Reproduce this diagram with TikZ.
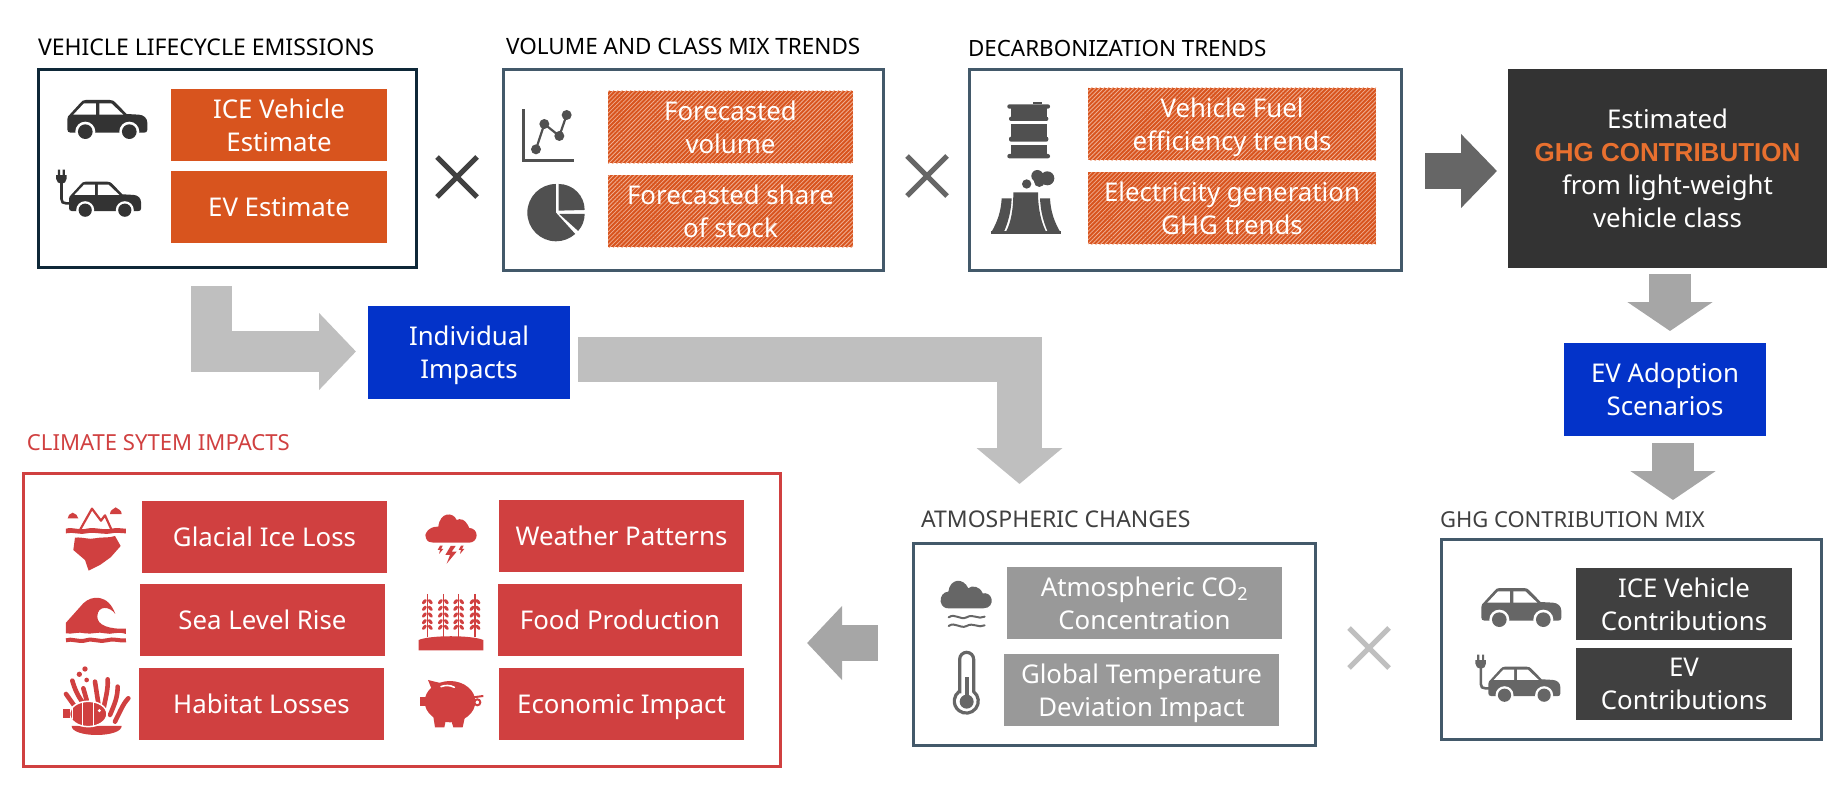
\documentclass[tikz,border=0pt]{standalone}
\usepackage{fontspec}
\setmainfont{Noto Sans}
\newfontfamily\ghgf{Liberation Sans}
\usetikzlibrary{arrows.meta,patterns.meta}
\definecolor{orng}{HTML}{D8541E}
\definecolor{hatchline}{HTML}{F0AE92}
\definecolor{navy}{HTML}{0E2838}
\definecolor{slate}{HTML}{43596A}
\definecolor{redd}{HTML}{D04040}
\definecolor{bluee}{HTML}{0333C9}
\definecolor{ghgor}{HTML}{E8702F}
\definecolor{grayA}{HTML}{999999}
\definecolor{grayD}{HTML}{404040}
\definecolor{iconA}{HTML}{333333}
\definecolor{iconB}{HTML}{505050}
\definecolor{iconC}{HTML}{666666}
\definecolor{arrL}{HTML}{BFBFBF}
\definecolor{arrM}{HTML}{A6A6A6}
\tikzset{
  frame/.style={draw=slate,line width=3pt,inner sep=0pt,outer sep=0pt},
  solidbox/.style={inner sep=0pt,outer sep=0pt,text=white,align=center,font=\fontsize{25.8}{33}\selectfont},
  oneline/.style={text height=22pt,text depth=4pt},
  orangebox/.style={solidbox,fill=orng},
  hatchbox/.style={solidbox,fill=orng,postaction={pattern={Lines[angle=45,distance=3pt,line width=.8pt]},pattern color=hatchline}},
  redbox/.style={solidbox,oneline,fill=redd},
  bluebox/.style={solidbox,fill=bluee},
  graybox/.style={solidbox,fill=grayA},
  darkbox/.style={solidbox,fill=grayD},
  blackbox/.style={solidbox,fill=iconA},
  ttl/.style={anchor=base west,inner sep=0pt,outer sep=0pt,font=\fontsize{#1}{24}\selectfont},
  cross/.style={line width=5pt},
}
\newcommand{\recbox}[7]{\node[#2,minimum width={(#5-#3)*1pt},minimum height={(#6-#4)*1pt}] (#1) at ({(#3+#5)/2},{(#4+#6)/2}) {#7};}
\newcommand{\crossmark}[3]{\draw[cross,draw=#3] (#1-20,#2-20) -- (#1+20,#2+20) (#1-20,#2+20) -- (#1+20,#2-20);}
\newcommand{\caricon}[4]{\begin{scope}[shift={(#1,#2)},scale=#3]
 \fill[#4] (0,58) .. controls (0,50) and (4,46) .. (8,43) -- (40,8) .. controls (44,3) and (48,0) .. (55,0) -- (128,0) .. controls (135,0) and (140,3) .. (143,6) -- (178,42) -- (215,44) .. controls (230,45) and (240,55) .. (240,68) -- (240,90) .. controls (240,96) and (236,98) .. (230,98) -- (10,98) .. controls (3,98) and (0,94) .. (0,88) -- cycle;
 \fill[white] (18,44) -- (50,10) -- (86,10) -- (86,44) -- cycle (96,10) -- (132,10) -- (168,44) -- (96,44) -- cycle;
 \fill[white] (54,95) circle (30) (186,95) circle (30);
 \fill[#4] (54,95) circle (22) (186,95) circle (22);
\end{scope}}
\newcommand{\plugicon}[4]{\begin{scope}[shift={(#1,#2)},scale=#3]
 \draw[#4,line width=2.6pt] (-25,5) -- (-25,58) .. controls (-25,68) and (-20,72) .. (-10,72) -- (8,72);
 \fill[#4] (-43,-22) -- (-8,-22) -- (-8,-10) .. controls (-8,0) and (-16,7) .. (-25,7) .. controls (-34,7) and (-43,0) .. (-43,-10) -- cycle;
 \fill[#4] (-37,-40) rectangle (-30,-20) (-21,-40) rectangle (-14,-20);
\end{scope}}
\begin{document}
\begin{tikzpicture}[x=1pt,y=-1pt]
\useasboundingbox (0,0) rectangle (1833,789);
% ---------- frames
\recbox{box1}{frame,draw=navy}{38}{70}{416.5}{267}{}
\recbox{box2}{frame}{503.5}{70}{883.5}{270}{}
\recbox{box3}{frame}{969.5}{70}{1401.5}{270}{}
\recbox{redfr}{frame,draw=redd}{23.5}{473}{780.5}{766}{}
\recbox{box4}{frame}{913.5}{543.5}{1315.5}{745.5}{}
\recbox{box5}{frame}{1441.5}{539}{1821.5}{739.5}{}
% ---------- titles
\node[ttl=23] (t1) at (38,56) {VEHICLE LIFECYCLE EMISSIONS};
\node[ttl=22.5] (t2) at (506,55) {VOLUME AND CLASS MIX TRENDS};
\node[ttl=22.4] (t3) at (968,57) {DECARBONIZATION TRENDS};
\node[ttl=22.1,text=redd] (t4) at (27,450) {CLIMATE SYTEM IMPACTS};
\node[ttl=23,text=grayD] (t5) at (921,527) {ATMOSPHERIC CHANGES};
\node[ttl=22,text=grayD] (t6) at (1440,527) {GHG CONTRIBUTION MIX};
% ---------- content boxes
\recbox{ice}{orangebox}{171}{89}{387}{161}{ICE Vehicle\\Estimate}
\recbox{ev}{orangebox,oneline}{171}{171}{387}{243}{EV Estimate}
\recbox{fv}{hatchbox}{608}{91}{853}{163}{Forecasted\\volume}
\recbox{fs}{hatchbox}{608}{175}{853}{247}{Forecasted share\\of stock}
\recbox{vf}{hatchbox}{1088}{88}{1376}{160}{Vehicle Fuel\\\smash{efficiency trends}}
\recbox{eg}{hatchbox}{1088}{172}{1376}{244}{Electricity generation\\GHG trends}
\recbox{dark}{blackbox}{1508}{69}{1827}{268}{Estimated\\{\ghgf\fontsize{26}{33}\selectfont\bfseries\color{ghgor}GHG CONTRIBUTION}\\from light-weight\\vehicle class}
\recbox{adopt}{bluebox}{1564}{343}{1766}{436}{EV Adoption\\Scenarios}
\recbox{ind}{bluebox}{368}{306}{570}{399}{Individual\\\smash{Impacts}}
\recbox{gl}{redbox}{142}{501}{387}{573}{Glacial Ice Loss}
\recbox{se}{redbox}{140}{584}{385}{656}{Sea Level Rise}
\recbox{ha}{redbox}{139}{668}{384}{740}{Habitat Losses}
\recbox{we}{redbox}{499}{500}{744}{572}{Weather Patterns}
\recbox{fo}{redbox}{498}{584}{742}{656}{Food Production}
\recbox{ec}{redbox}{499}{668}{744}{740}{Economic Impact}
\recbox{co}{graybox}{1007}{567}{1282}{639}{Atmospheric CO\textsubscript{2}\\Concentration}
\recbox{gt}{graybox}{1004}{654}{1279}{726}{Global Temperature\\\smash{Deviation Impact}}
\recbox{ic}{darkbox}{1576}{568}{1792}{640}{ICE Vehicle\\Contributions}
\recbox{ec2}{darkbox}{1576}{648}{1792}{720}{EV\\Contributions}
% ---------- crosses
\crossmark{457}{177}{grayD}
\crossmark{927}{176}{iconC}
\crossmark{1369}{648}{arrL}
% ---------- block connectors
\coordinate (a1) at (211.6,286);
\coordinate (a1e) at (356,351.5);
\draw[line width=41pt,draw=arrL,-{Triangle[width=75pt,length=37pt]}] (a1) |- (a1e);
\coordinate (a2) at (578,359);
\coordinate (a2e) at (1019.5,484);
\draw[line width=45pt,draw=arrL,-{Triangle[width=84pt,length=36pt]}] (a2) -| (a2e);
\coordinate (a3) at (1425,171);
\coordinate (a3e) at (1497,171);
\draw[line width=36pt,draw=iconC,-{Triangle[width=72pt,length=36pt]}] (a3) -- (a3e);
\coordinate (a4) at (1670,274);
\coordinate (a4e) at (1670,331);
\draw[line width=42pt,draw=arrM,-{Triangle[width=84pt,length=29pt]}] (a4) -- (a4e);
\coordinate (a5) at (1673,443);
\coordinate (a5e) at (1673,500);
\draw[line width=42pt,draw=arrM,-{Triangle[width=84pt,length=29pt]}] (a5) -- (a5e);
\coordinate (a6) at (878,643);
\coordinate (a6e) at (807,643);
\draw[line width=36pt,draw=arrM,-{Triangle[width=72pt,length=35pt]}] (a6) -- (a6e);
% ---------- top icons
\caricon{67.3}{100}{.3333}{iconA}
\caricon{69}{181.7}{.3}{iconA}
\plugicon{69}{181.7}{.3}{iconA}
\begin{scope}[shift={(480,20)},scale=.3333]
 \draw[iconB,line width=2.6pt] (131,268) -- (131,421) -- (283,421);
 \draw[iconB,line width=2.2pt] (168,388) -- (193,312) -- (238,348) -- (260,285);
 \fill[iconB] (168,388) circle (15) (193,312) circle (15) (238,348) circle (15) (260,285) circle (15);
 \fill[iconB] (228,578) -- (228,492) arc[start angle=270,end angle=48,radius=86] -- cycle;
 \fill[iconB] (236,572) -- (236,492) arc[start angle=-90,end angle=0,radius=78] -- cycle;
 \fill[iconB] (238,582) -- (314,582) arc[start angle=0,end angle=42,radius=76] -- cycle;
\end{scope}
\begin{scope}[shift={(960,20)},scale=.3333]
 \fill[iconB] (220,252) rectangle (246,246);
 \fill[iconB,rounded corners=2pt] (142,253) rectangle (270,266);
 \fill[iconB] (153,264) rectangle (260,292);
 \fill[iconB,rounded corners=2pt] (147,290) rectangle (265,303);
 \fill[iconB] (153,312) rectangle (260,352);
 \fill[iconB,rounded corners=2pt] (147,350) rectangle (265,365);
 \fill[iconB] (153,376) rectangle (260,404);
 \fill[iconB,rounded corners=2pt] (142,402) rectangle (270,415);
 \fill[iconB] (160,517) -- (234,517) .. controls (234,570) and (245,610) .. (258,635) -- (138,635) .. controls (152,610) and (160,570) .. (160,517) -- cycle;
 \fill[iconB] (125,535) -- (155,535) .. controls (153,575) and (145,605) .. (132,635) -- (95,635) .. controls (112,605) and (123,575) .. (125,535) -- cycle;
 \fill[iconB] (240,535) -- (270,535) .. controls (272,575) and (283,605) .. (300,635) -- (263,635) .. controls (250,605) and (242,575) .. (240,535) -- cycle;
 \fill[iconB] (93,634) rectangle (302,642);
 \fill[iconB] (232,468) circle (18) (262,475) circle (21) (238,485) circle (16) (200,492) circle (14);
\end{scope}
% ---------- climate icons
\begin{scope}[shift={(20,470)},scale=.3333]
 \fill[redd] (143,145) .. controls (143,135) and (150,132) .. (158,128) .. controls (165,132) and (175,135) .. (175,145) -- cycle;
 \fill[redd] (270,132) .. controls (270,120) and (280,118) .. (287,112) .. controls (295,118) and (305,120) .. (305,132) -- cycle;
 \draw[redd,line width=2.2pt,line join=round] (181,178) -- (216,116) -- (243,152) -- (255,136) -- (274,178);
 \fill[redd] (138,176) .. controls (160,170) and (175,182) .. (200,176) .. controls (225,170) and (250,182) .. (275,176) .. controls (290,172) and (305,176) .. (318,176) -- (318,190) .. controls (300,190) and (290,186) .. (275,190) .. controls (250,195) and (225,185) .. (200,190) .. controls (175,195) and (160,185) .. (138,190) -- cycle;
 \fill[redd] (165,203) .. controls (190,200) and (205,210) .. (225,205) .. controls (250,200) and (265,205) .. (285,198) -- (302,228) -- (272,262) -- (240,285) -- (206,302) -- (195,270) -- (160,240) -- cycle;
 \fill[redd] (138,490) -- (138,458) -- (190,400) .. controls (215,375) and (265,372) .. (286,432) .. controls (270,408) and (232,405) .. (232,440) .. controls (232,465) and (265,478) .. (318,476) -- (318,492) .. controls (290,482) and (275,496) .. (255,490) .. controls (235,484) and (215,494) .. (195,490) .. controls (175,484) and (155,494) .. (138,490) -- cycle;
 \draw[redd,line width=4pt] (138,511) .. controls (155,504) and (175,518) .. (198,511) .. controls (220,504) and (240,518) .. (260,511) .. controls (280,504) and (300,514) .. (318,511);
 \fill[redd] (178,613) circle (8) (195,597) circle (8) (200,630) circle (7);
 \draw[redd,line width=4.6pt,line cap=round] (138,672) -- (165,710) (157,632) .. controls (165,660) and (175,680) .. (190,700) (190,655) -- (200,690) (225,635) -- (235,700) (263,628) .. controls (265,660) and (255,690) .. (250,720) (293,650) .. controls (293,680) and (285,700) .. (270,735) (325,685) .. controls (310,700) and (300,725) .. (285,755);
 \fill[redd] (155,768) -- (305,768) .. controls (305,785) and (270,795) .. (230,795) .. controls (190,795) and (155,785) .. (155,768) -- cycle;
 \fill[redd,draw=white,line width=1.5pt] (205,732) ellipse (56 and 38);
 \fill[redd] (128,718) rectangle (150,745);
 \draw[white,line width=1.5pt] (158,715) -- (158,748) (188,697) -- (188,767) (220,697) -- (220,767);
 \fill[white] (238,722) circle (5);
\end{scope}
\begin{scope}[shift={(400,470)},scale=.3333]
 \fill[redd] (100,218) -- (208,218) arc[start angle=90,end angle=-90,radius=22] -- (208,174) .. controls (195,145) and (180,145) .. (170,150) .. controls (160,125) and (120,125) .. (115,170) .. controls (85,168) and (70,195) .. (78,205) .. controls (82,215) and (90,218) .. (100,218) -- cycle;
 \fill[redd] (152,228) -- (136,255) -- (150,255) -- (140,281) -- (170,245) -- (155,245) -- (167,228) -- cycle;
 \fill[redd] (120,227) -- (113,240) -- (120,240) -- (117,252) -- (130,237) -- (123,237) -- (128,227) -- cycle;
 \fill[redd] (183,227) -- (176,240) -- (183,240) -- (180,252) -- (193,237) -- (186,237) -- (191,227) -- cycle;
 \fill[redd] (56,510) .. controls (90,495) and (215,495) .. (250,510) -- (250,541) -- (56,541) -- cycle;
 \foreach \sx in {82,130,176,225}{
  \draw[redd,line width=1.5pt] (\sx,372) -- (\sx,502);
  \foreach \ky in {395,415,435,455,472}{
   \fill[redd,rotate around={50:(\sx-9,\ky)}] (\sx-9,\ky) ellipse (9 and 5);
   \fill[redd,rotate around={-50:(\sx+9,\ky)}] (\sx+9,\ky) ellipse (9 and 5);
  }
 }
 \fill[redd] (150,695) ellipse (76 and 62);
 \fill[redd] (84,630) -- (125,640) -- (100,670) -- cycle;
 \fill[redd] (60,680) rectangle (85,708);
 \fill[redd] (100,740) -- (140,740) -- (133,772) -- (105,772) -- cycle;
 \fill[redd] (150,740) -- (195,740) -- (188,772) -- (160,772) -- cycle;
 \draw[white,line width=1.6pt,line cap=round] (123,650) .. controls (135,645) and (150,645) .. (163,652);
 \draw[redd,line width=2pt] (212,683) -- (250,678);
 \draw[redd,line width=2pt] (232,697) circle (9);
\end{scope}
% ---------- atmospheric icons
\begin{scope}[shift={(900,500)},scale=.3333]
 \fill[iconC] (145,325) -- (250,325) .. controls (270,325) and (277,310) .. (275,298) .. controls (272,282) and (258,278) .. (248,280) .. controls (240,258) and (215,255) .. (205,265) .. controls (190,232) and (150,235) .. (145,275) .. controls (130,275) and (120,290) .. (122,305) .. controls (125,320) and (135,325) .. (145,325) -- cycle;
 \draw[iconC,line width=2pt,line cap=round] (146,352) .. controls (165,338) and (180,362) .. (200,352) .. controls (220,340) and (235,360) .. (254,350);
 \draw[iconC,line width=2pt,line cap=round] (146,378) .. controls (165,364) and (180,388) .. (200,378) .. controls (220,366) and (235,386) .. (254,376);
 \draw[iconC,line width=3.2pt] (179,575) -- (179,478) arc[start angle=180,end angle=360,radius=21] -- (221,575) arc[start angle=-52,end angle=232,radius=36] -- cycle;
 \fill[iconC] (200,605) circle (21);
 \fill[iconC] (194,530) rectangle (206,590);
\end{scope}
\caricon{1481.3}{588}{.3333}{iconC}
\caricon{1488.3}{666.7}{.3}{iconC}
\plugicon{1488.3}{666.7}{.3}{iconC}
\end{tikzpicture}
\end{document}
